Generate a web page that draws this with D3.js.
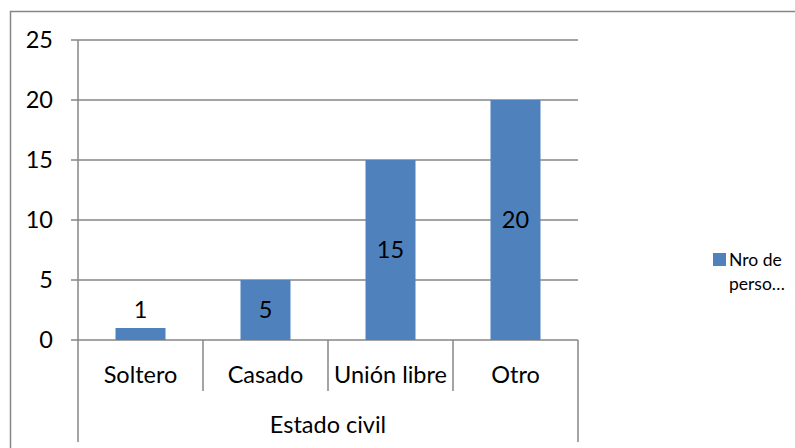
<!DOCTYPE html>
<html><head><meta charset="utf-8">
<script src="https://cdn.jsdelivr.net/npm/d3@7"></script>
<style>body{margin:0;background:#fff}svg{display:block}</style>
</head><body>
<svg id="c" width="795" height="448"></svg>
<script>
const categories = ["Soltero", "Casado", "Unión libre", "Otro"];
const values = [1, 5, 15, 20];
const yTicks = [0, 5, 10, 15, 20, 25];
const seriesName = ["Nro de", "perso…"];
const axisTitle = "Estado civil";

(function () {
const svg = d3.select("#c");
const font = "Lato, 'Open Sans', sans-serif";
const grey = "#868686";
const pL = 78, pR = 578, pT = 40, pB = 340;
const fs = 23.5;

svg.append("rect").attr("x", 10.5).attr("y", 11.5).attr("width", 900).attr("height", 600)
  .attr("fill", "none").attr("stroke", grey).attr("stroke-width", 1.5);

const x = d3.scaleBand().domain(categories).range([pL, pR]).paddingInner(0.6).paddingOuter(0.3);
const xc = d3.scaleBand().domain(categories).range([pL, pR]);
const y = d3.scaleLinear().domain([0, 25]).range([pB, pT]);

svg.append("g").selectAll("line").data(yTicks).join("line")
  .attr("x1", pL - 7).attr("x2", pR).attr("y1", d => y(d)).attr("y2", d => y(d))
  .attr("stroke", grey).attr("stroke-width", 1.5);
svg.append("g").selectAll("text").data(yTicks).join("text")
  .attr("x", 53).attr("y", d => y(d)).attr("dy", "0.36em").attr("text-anchor", "end")
  .attr("font-family", font).attr("font-size", fs).attr("fill", "#000").text(d => d);
svg.append("line").attr("x1", pL).attr("x2", pL).attr("y1", pT).attr("y2", 442)
  .attr("stroke", grey).attr("stroke-width", 1.5);
svg.append("line").attr("x1", pR).attr("x2", pR).attr("y1", pB).attr("y2", 442)
  .attr("stroke", grey).attr("stroke-width", 1.5);
svg.append("g").selectAll("line").data(categories.slice(1)).join("line")
  .attr("x1", d => xc(d)).attr("x2", d => xc(d)).attr("y1", pB).attr("y2", 391)
  .attr("stroke", grey).attr("stroke-width", 1.5);

svg.append("g").selectAll("rect").data(values).join("rect")
  .attr("x", (d, i) => x(categories[i])).attr("width", x.bandwidth())
  .attr("y", d => y(d)).attr("height", d => y(0) - y(d)).attr("fill", "#4F81BD");

svg.append("g").selectAll("text").data(values).join("text")
  .attr("x", (d, i) => x(categories[i]) + x.bandwidth() / 2)
  .attr("y", d => (y(0) - y(d)) < 30 ? y(d) - 18 : (y(d) + y(0)) / 2)
  .attr("dy", "0.36em").attr("text-anchor", "middle")
  .attr("font-family", font).attr("font-size", fs).attr("fill", "#000").text(d => d);

svg.append("g").selectAll("text").data(categories).join("text")
  .attr("x", d => xc(d) + xc.bandwidth() / 2).attr("y", 383).attr("text-anchor", "middle")
  .attr("font-family", font).attr("font-size", fs).attr("fill", "#000").text(d => d);
svg.append("text").attr("x", (pL + pR) / 2).attr("y", 433).attr("text-anchor", "middle")
  .attr("font-family", font).attr("font-size", fs).attr("fill", "#000").text(axisTitle);

svg.append("rect").attr("x", 713).attr("y", 253).attr("width", 13).attr("height", 13).attr("fill", "#4F81BD");
svg.append("g").selectAll("text").data(seriesName).join("text")
  .attr("x", 729).attr("y", (d, i) => 266 + i * 24)
  .attr("font-family", font).attr("font-size", 17.5).attr("fill", "#000").text(d => d);
})();
</script>
</body></html>
